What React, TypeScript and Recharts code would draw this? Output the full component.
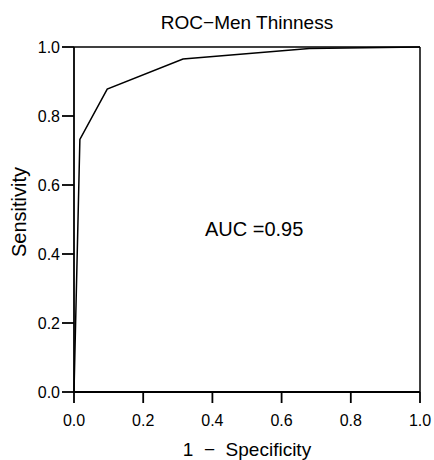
import {
  LineChart,
  Line,
  XAxis,
  YAxis,
  ReferenceLine,
  ReferenceDot,
} from "recharts";

const fpr = [0, 0.017, 0.096, 0.315, 0.68, 1];
const tpr = [0, 0.732, 0.878, 0.965, 0.996, 1];
const ticks = [0, 0.2, 0.4, 0.6, 0.8, 1];

const data = fpr.map((x, i) => ({ x, y: tpr[i] }));

const FONT = '"Liberation Sans", Arial, sans-serif';
const fmt = (v: number) => v.toFixed(1);

// rotated y label, placed by hand
function SensLabel() {
  return (
    <text
      x={26}
      y={212}
      transform="rotate(-90 26 212)"
      textAnchor="middle"
      fill="#000"
      fontSize={20}
      fontFamily={FONT}
    >
      Sensitivity
    </text>
  );
}

export default function App() {
  return (
    <div
      style={{
        position: "absolute",
        left: 0,
        top: 0,
        width: 434,
        height: 460,
        background: "#fff",
        fontFamily: FONT,
      }}
    >
      <div
        style={{
          position: "absolute",
          left: 74,
          width: 346,
          top: 11,
          textAlign: "center",
          fontSize: 19,
          color: "#000",
          lineHeight: "24px",
        }}
      >
        ROC−Men Thinness
      </div>
      <LineChart
        width={434}
        height={460}
        data={data}
        margin={{ top: 47, right: 14, left: 0, bottom: 0 }}
      >
        <XAxis
          dataKey="x"
          type="number"
          domain={[0, 1]}
          ticks={ticks}
          tickFormatter={fmt}
          height={68}
          tickSize={11}
          tickMargin={12}
          stroke="#000"
          strokeWidth={1.8}
          tick={{ fill: "#000", fontSize: 16, fontFamily: FONT }}
          label={{
            value: "1\u00a0 −\u00a0 Specificity",
            position: "insideBottom",
            offset: 4,
            fill: "#000",
            fontSize: 19,
            fontFamily: FONT,
          }}
        />
        <YAxis
          dataKey="y"
          type="number"
          domain={[0, 1]}
          ticks={ticks}
          tickFormatter={fmt}
          width={74}
          tickSize={12}
          tickMargin={2}
          stroke="#000"
          strokeWidth={1.8}
          tick={{ fill: "#000", fontSize: 16, fontFamily: FONT }}
          label={<SensLabel />}
        />
        <ReferenceLine y={1} stroke="#000" strokeWidth={1.5} />
        <ReferenceLine x={1} stroke="#000" strokeWidth={1.5} />
        <ReferenceDot
          x={0.364}
          y={0.472}
          r={0}
          stroke="none"
          fill="none"
          label={{
            value: "AUC =0.95",
            position: "right",
            fill: "#000",
            fontSize: 20,
            fontFamily: FONT,
          }}
        />
        <Line
          dataKey="y"
          type="linear"
          stroke="#000"
          strokeWidth={1.5}
          dot={false}
          isAnimationActive={false}
        />
      </LineChart>
    </div>
  );
}
